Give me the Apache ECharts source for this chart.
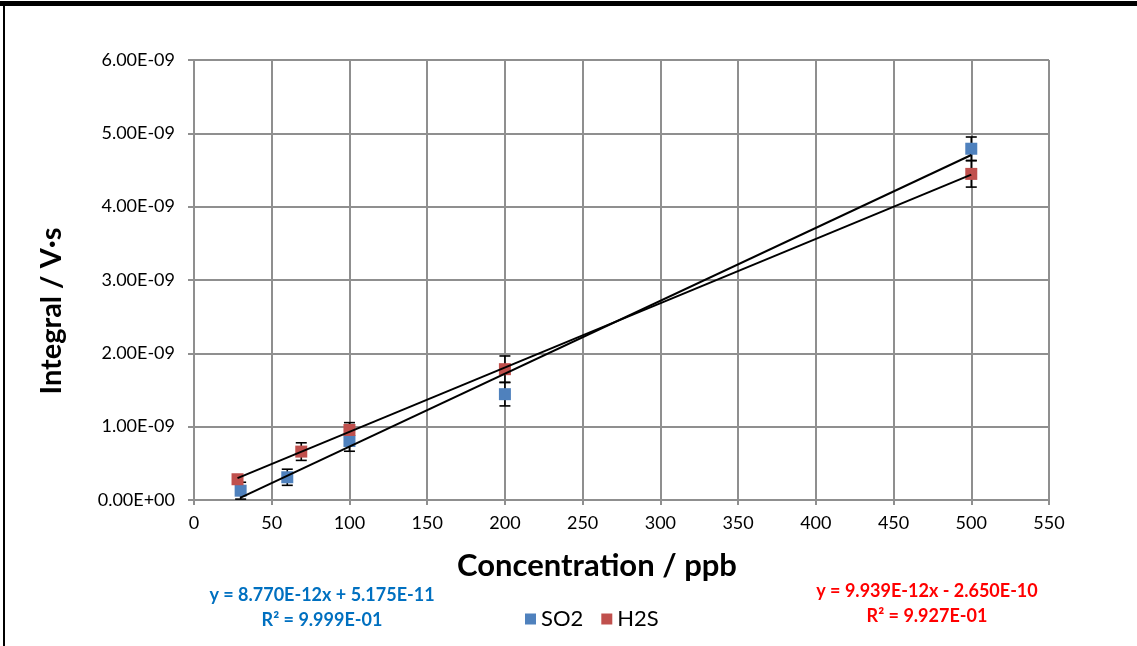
<!DOCTYPE html>
<html>
<head>
<meta charset="utf-8">
<script src="https://cdn.jsdelivr.net/npm/echarts@6/dist/echarts.min.js"></script>
<style>
  html, body { margin: 0; padding: 0; background: #fff; }
  #chart { width: 1137px; height: 646px; }
</style>
</head>
<body>
<div id="chart"></div>
<script>
// Calibration data: concentration (ppb) vs integrated signal (V·s)
const so2X = [30, 60, 100, 200, 500];
const so2Y = [0.127e-9, 0.31e-9, 0.805e-9, 1.443e-9, 4.79e-9];
const so2Err = [0.115e-9, 0.11e-9, 0.14e-9, 0.16e-9, 0.16e-9];

const h2sX = [28, 69, 100, 200, 500];
const h2sY = [0.283e-9, 0.66e-9, 0.955e-9, 1.784e-9, 4.447e-9];
const h2sErr = [0.05e-9, 0.12e-9, 0.10e-9, 0.18e-9, 0.18e-9];

// Linear fit coefficients [slope, intercept]
const so2Fit = [9.939e-12, -2.650e-10];
const h2sFit = [8.770e-12, 5.175e-11];

// Fit annotations
const eqBlue = ['y = 8.770E-12x + 5.175E-11', 'R² = 9.999E-01'];
const eqRed = ['y = 9.939E-12x - 2.650E-10', 'R² = 9.927E-01'];

const xTicks = { min: 0, max: 550, step: 50 };
const yTicks = { min: 0, max: 6e-9, step: 1e-9 };

const BLUE = '#4F81BD';
const RED = '#C0504D';
const GRID = '#8f8f8f';
const FONT = 'Lato, "Open Sans", sans-serif';

function sci(v) {
  if (Math.abs(v) < 1e-15) return '0.00E+00';
  const s = v.toExponential(2).split('e');
  const e = parseInt(s[1], 10);
  const es = (e < 0 ? '-' : '+') + String(Math.abs(e)).padStart(2, '0');
  return s[0] + 'E' + es;
}

function pairs(xs, ys) { return xs.map((x, i) => [x, ys[i]]); }
function errData(xs, ys, es) { return xs.map((x, i) => [x, ys[i] - es[i], ys[i] + es[i]]); }
function fitLine(xs, fit) {
  const a = Math.min.apply(null, xs), b = Math.max.apply(null, xs);
  return [[a, fit[0] * a + fit[1]], [b, fit[0] * b + fit[1]]];
}

function errorBars(params, api) {
  const x = api.value(0);
  const lo = api.coord([x, api.value(1)]);
  const hi = api.coord([x, api.value(2)]);
  const w = 5.5;
  const st = { stroke: '#000', lineWidth: 1.6 };
  return {
    type: 'group',
    children: [
      { type: 'line', shape: { x1: lo[0], y1: lo[1], x2: hi[0], y2: hi[1] }, style: st },
      { type: 'line', shape: { x1: lo[0] - w, y1: lo[1], x2: lo[0] + w, y2: lo[1] }, style: st },
      { type: 'line', shape: { x1: hi[0] - w, y1: hi[1], x2: hi[0] + w, y2: hi[1] }, style: st }
    ]
  };
}

const chart = echarts.init(document.getElementById('chart'), null, { renderer: 'canvas' });

function label(x, y, text, size, color, rot) {
  return {
    type: 'text', x: x, y: y, rotation: rot || 0,
    style: { text: text, fontSize: size, fontWeight: 'bold', fontFamily: FONT, fill: color, textAlign: 'center', textVerticalAlign: 'middle' }
  };
}

chart.setOption({
  backgroundColor: '#fff',
  animation: false,
  grid: { left: 194, right: 88, top: 60, bottom: 146 },
  xAxis: {
    type: 'value',
    min: xTicks.min, max: xTicks.max, interval: xTicks.step,
    axisLine: { lineStyle: { color: GRID, width: 2 } },
    axisTick: { show: true, length: 5, lineStyle: { color: GRID, width: 2 } },
    splitLine: { lineStyle: { color: GRID, width: 2 } },
    axisLabel: { color: '#000', fontSize: 18, fontFamily: FONT, margin: 14 }
  },
  yAxis: {
    type: 'value',
    min: yTicks.min, max: yTicks.max, interval: yTicks.step,
    axisLine: { show: true, lineStyle: { color: GRID, width: 2 } },
    axisTick: { show: true, length: 6, lineStyle: { color: GRID, width: 2 } },
    splitLine: { lineStyle: { color: GRID, width: 2 } },
    axisLabel: { color: '#000', fontSize: 18, fontFamily: FONT, margin: 19, formatter: sci }
  },
  legend: {
    data: ['SO2', 'H2S'],
    left: 520, top: 603,
    itemWidth: 11, itemHeight: 11, itemGap: 18,
    icon: 'rect',
    textStyle: { color: '#000', fontSize: 22, fontFamily: FONT }
  },
  graphic: [
    { type: 'rect', shape: { x: 0, y: 1, width: 1137, height: 5 }, style: { fill: '#000' } },
    { type: 'rect', shape: { x: 3, y: 1, width: 2, height: 645 }, style: { fill: '#000' } },
    label(597, 566, 'Concentration / ppb', 31, '#000'),
    label(52, 311, 'Integral / V·s', 29, '#000', Math.PI / 2),
    label(322, 595, eqBlue[0], 18, '#0070C0'),
    label(322, 620, eqBlue[1], 18, '#0070C0'),
    label(927, 591, eqRed[0], 18, '#FF0000'),
    label(927, 616, eqRed[1], 18, '#FF0000')
  ],
  series: [
    {
      name: 'SO2 error', type: 'custom', renderItem: errorBars,
      data: errData(so2X, so2Y, so2Err), z: 2, silent: true
    },
    {
      name: 'H2S error', type: 'custom', renderItem: errorBars,
      data: errData(h2sX, h2sY, h2sErr), z: 2, silent: true
    },
    {
      name: 'SO2', type: 'scatter', symbol: 'rect', symbolSize: 12,
      itemStyle: { color: BLUE, opacity: 1 }, data: pairs(so2X, so2Y), z: 3
    },
    {
      name: 'H2S', type: 'scatter', symbol: 'rect', symbolSize: 12,
      itemStyle: { color: RED, opacity: 1 }, data: pairs(h2sX, h2sY), z: 4
    },
    {
      name: 'SO2 fit', type: 'line', data: fitLine(so2X, so2Fit), showSymbol: false, symbol: 'none',
      lineStyle: { color: '#000', width: 2 }, z: 5, silent: true
    },
    {
      name: 'H2S fit', type: 'line', data: fitLine(h2sX, h2sFit), showSymbol: false, symbol: 'none',
      lineStyle: { color: '#000', width: 2 }, z: 5, silent: true
    }
  ]
});
</script>
</body>
</html>
